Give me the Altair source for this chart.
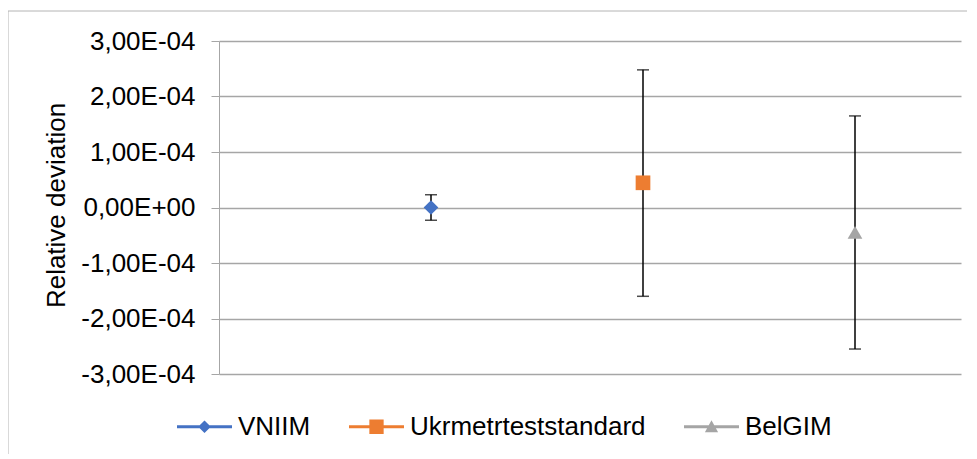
import altair as alt
import pandas as pd

# ---- data ----
names = ["VNIIM", "Ukrmetrteststandard", "BelGIM"]
xpos = [1, 2, 3]
values = [0.0, 4.45e-5, -4.5e-5]
upper = [2.3e-5, 2.48e-4, 1.65e-4]
lower = [-2.3e-5, -1.60e-4, -2.55e-4]
colors = ["#4472C4", "#ED7D31", "#A5A5A5"]
shapes = ["diamond", "square", "triangle-up"]
y_ticks = [-3e-4, -2e-4, -1e-4, 0.0, 1e-4, 2e-4, 3e-4]

# legend glyphs: a line segment with the marker on top
legend_shapes = [
    "M-1,-0.055H1V0.055H-1Z M-0.23,0L0,-0.23L0.23,0L0,0.23Z",
    "M-1,-0.055H1V0.055H-1Z M-0.26,-0.26H0.26V0.26H-0.26Z",
    "M-1,-0.055H1V0.055H-1Z M-0.24,0.2L0,-0.24L0.24,0.2Z",
]

df = pd.DataFrame({"name": names, "x": xpos, "value": values,
                   "upper": upper, "lower": lower})

W, H = 742, 333
FONT = "Liberation Sans"
GRID = "#a6a6a6"

label_expr = ("abs(datum.value) < 1e-12 ? '0,00E+00' : "
              "(datum.value < 0 ? '-' : '') + "
              "replace(format(abs(datum.value) * 10000, '.2f'), '.', ',') + 'E-04'")

yaxis = alt.Axis(values=y_ticks, labelExpr=label_expr, grid=True,
                 gridColor=GRID, gridWidth=1.5,
                 domainColor=GRID, domainWidth=1, tickColor=GRID, tickSize=8,
                 labelFontSize=26, labelFont=FONT, labelColor="black",
                 labelPadding=16,
                 titleFontSize=26, titleFont=FONT, titleFontWeight="normal",
                 titleColor="black", titleAngle=270, titleBaseline="alphabetic",
                 titleAlign="center", titleX=-155, titleY=164)
yscale = alt.Scale(domain=[-3e-4, 3e-4])
TITLE = "Relative deviation"
xenc = alt.X("x:Q", scale=alt.Scale(domain=[0, 3.5]), axis=None)

base = alt.Chart(df)

border = alt.Chart(pd.DataFrame({"d": [0]})).mark_rect(
    fill="transparent", stroke="#b4b4b4", strokeWidth=1
).encode(x=alt.value(-211), x2=alt.value(1200), y=alt.value(-30), y2=alt.value(1200))

bars = base.mark_rule(color="black", strokeWidth=1.5).encode(
    x=xenc,
    y=alt.Y("lower:Q", scale=yscale, axis=yaxis, title=TITLE),
    y2="upper:Q",
)
cap_top = base.mark_tick(color="black", thickness=1.5, size=12, orient="horizontal").encode(
    x=xenc, y=alt.Y("upper:Q", scale=yscale, axis=yaxis, title=TITLE))
cap_bot = base.mark_tick(color="black", thickness=1.5, size=12, orient="horizontal").encode(
    x=xenc, y=alt.Y("lower:Q", scale=yscale, axis=yaxis, title=TITLE))

points = base.mark_point(filled=True, size=216, opacity=1).encode(
    x=xenc,
    y=alt.Y("value:Q", scale=yscale, axis=yaxis, title=TITLE),
    color=alt.Color("name:N", scale=alt.Scale(domain=names, range=colors), legend=None),
    shape=alt.Shape("name:N", scale=alt.Scale(domain=names, range=shapes), legend=None),
)

leg = dict(orient="none", legendX=-42, legendY=358, direction="horizontal",
           title=None, symbolSize=3025, symbolStrokeWidth=0, symbolOpacity=1,
           labelFontSize=26, labelFont=FONT, labelColor="black", labelOffset=6,
           columnPadding=38, padding=0, labelLimit=500)

legend_layer = base.mark_point(filled=True, opacity=0).encode(
    x=xenc,
    y=alt.Y("value:Q", scale=yscale, axis=yaxis, title=TITLE),
    color=alt.Color("name:N", scale=alt.Scale(domain=names, range=colors),
                    legend=alt.Legend(**leg)),
    shape=alt.Shape("name:N", scale=alt.Scale(domain=names, range=legend_shapes),
                    legend=alt.Legend(**leg)),
)

chart = alt.layer(border, bars, cap_top, cap_bot, points, legend_layer).resolve_scale(
    shape="independent", color="independent"
).properties(
    width=W, height=H,
    autosize=alt.AutoSizeParams(type="none"),
    padding={"left": 211, "top": 33, "right": 6, "bottom": 80},
    background="white",
).configure_view(stroke=None)

chart.save("out.html", embed_options={"renderer": "svg", "actions": False})
